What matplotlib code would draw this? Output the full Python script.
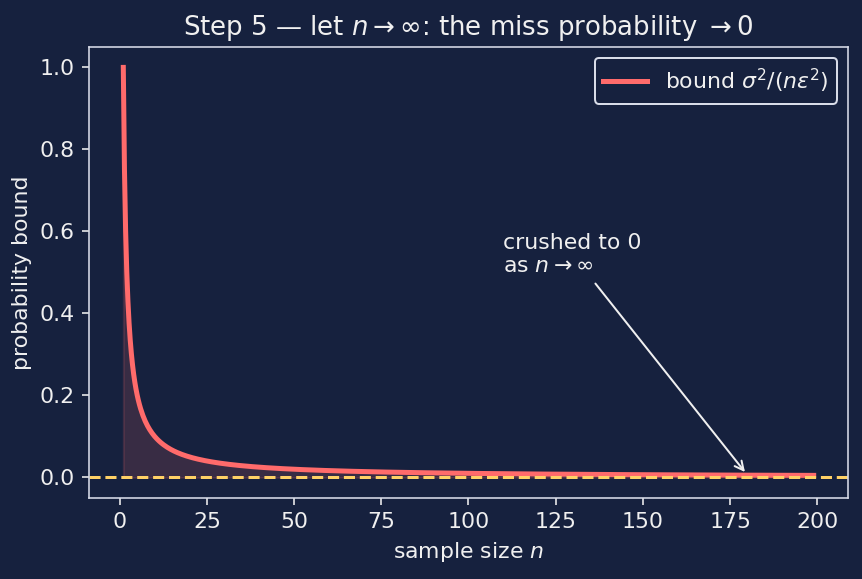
import numpy as np
import matplotlib.pyplot as plt

# Chebyshev bound sigma^2 / (n eps^2), normalised so that it is 1 at n = 1
sigma2 = 1.0
eps = 1.0
n_min, n_max = 1, 199
n = np.linspace(n_min, n_max, 600)
bound = sigma2 / (n * eps ** 2)

bg = '#16213e'
fg = '#f0f0f0'

plt.rcParams['font.family'] = ['DejaVu Sans']
fig, ax = plt.subplots(figsize=(862 / 144, 579 / 144), dpi=144)
fig.patch.set_facecolor(bg)
ax.set_facecolor(bg)

ax.fill_between(n, bound, 0, color='#ff6b6b', alpha=0.15)
ax.plot(n, bound, color='#ff6b6b', lw=2.5, label=r'bound $\sigma^2/(n\varepsilon^2)$')
ax.axhline(0, color='#ffd166', ls='--', lw=1.5)

ax.annotate('crushed to 0\n' + r'as $n\to\infty$', xy=(180, sigma2 / (180 * eps ** 2)),
            xytext=(110, 0.5), color=fg, fontsize=11,
            arrowprops=dict(arrowstyle='->', color=fg, lw=1))

ax.set_title(r'Step 5 — let $n\to\infty$: the miss probability $\to 0$', color=fg, fontsize=13)
ax.set_xlabel(r'sample size $n$', color=fg, fontsize=11)
ax.set_ylabel('probability bound', color=fg, fontsize=11)
ax.tick_params(colors=fg, labelsize=11)
for s in ax.spines.values():
    s.set_color('#d8dce8')

leg = ax.legend(loc='upper right', fontsize=11, facecolor=bg, edgecolor='#d8dce8', framealpha=1)
for t in leg.get_texts():
    t.set_color(fg)

fig.subplots_adjust(left=0.103, right=0.984, top=0.919, bottom=0.140)
fig.savefig('out.png', facecolor=bg)
